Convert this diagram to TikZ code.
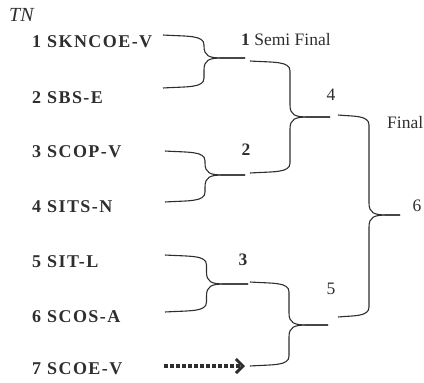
\documentclass[tikz,border=0pt]{standalone}
\usepackage{fontspec}
\setmainfont{Liberation Serif}
\usetikzlibrary{calc,arrows.meta}
\definecolor{ink}{HTML}{2E2E2E}
\tikzset{
  team/.style={anchor=base west, inner sep=0pt, text=ink, font=\fontsize{18}{21}\selectfont\bfseries\addfontfeature{LetterSpace=8}},
  lbl/.style={inner sep=0pt, text=ink, font=\fontsize{17.5}{21}\selectfont},
  blbl/.style={lbl, font=\fontsize{17.5}{21}\selectfont\bfseries},
  brk/.style={draw=ink, line width=1.1pt, to path={
    let \p1=(\tikztostart), \p2=(\tikztotarget),
        \p3=($(\tikztostart)!0.5!(\tikztotarget)$),
        \n1={sign(\y2-\y1)*10} in
    .. controls (\x3-16pt,\y1+0.15*\n1) and (\x3,\y1) .. (\x3,\y1+\n1)
    -- (\x3,\y2-1.2*\n1)
    .. controls (\x3,\y2-0.2*\n1) and (\x3+5pt,\y2) .. (\x3+18pt,\y2)
    -- (\tikztotarget)}},
  dotarrow/.style={draw=ink, line width=3.2pt, dash pattern=on 4pt off 2pt,
    -{Straight Barb[length=7pt,width=14pt,line width=3pt]}, shorten >=5pt}
}
\begin{document}
\begin{tikzpicture}[x=1pt,y=-1pt]
\useasboundingbox (0,0) rectangle (424,383);
% labels
\node[lbl, anchor=base west, font=\fontsize{20}{24}\selectfont\itshape] (tn) at (9,21) {TN};
\node[team] (t1) at (32,47) {1 SKNCOE-V};
\node[team] (t2) at (32,103) {2 SBS-E};
\node[team] (t3) at (32,157) {3 SCOP-V};
\node[team] (t4) at (32,212) {4 SITS-N};
\node[team] (t5) at (32,267) {5 SIT-L};
\node[team] (t6) at (32,322) {6 SCOS-A};
\node[team] (t7) at (32,374) {7 SCOE-V};
% bracket coordinates
\coordinate (a1) at (163,35);  \coordinate (b1) at (163,88);  \coordinate (m1) at (245,58);
\coordinate (a2) at (165,151); \coordinate (b2) at (165,202); \coordinate (m2) at (245,175);
\coordinate (a3) at (165,255); \coordinate (b3) at (165,312); \coordinate (m3) at (248,284);
\coordinate (a4) at (250,61);  \coordinate (b4) at (250,173); \coordinate (m4) at (330,117);
\coordinate (a5) at (250,282); \coordinate (b5) at (250,366); \coordinate (m5) at (328,325);
\coordinate (a6) at (338,115); \coordinate (b6) at (338,317); \coordinate (m6) at (400,215);
\coordinate (d7) at (164,366);
% brackets
\foreach \i in {1,...,6}{
  \draw[brk] (a\i) to (m\i);
  \draw[brk] (b\i) to (m\i);
}
\draw[dotarrow] (d7) -- (b5);
% round labels
\node[lbl, anchor=base west] (sf) at (241,45) {\textbf{1} Semi Final};
\node[blbl] (r2) at (246,150) {2};
\node[blbl] (r3) at (243,260) {3};
\node[lbl] (r4) at (331,95) {4};
\node[lbl] (r5) at (331,289) {5};
\node[lbl, anchor=base west] (fin) at (387,128) {Final};
\node[lbl] (r6) at (417,206) {6};
\end{tikzpicture}
\end{document}
